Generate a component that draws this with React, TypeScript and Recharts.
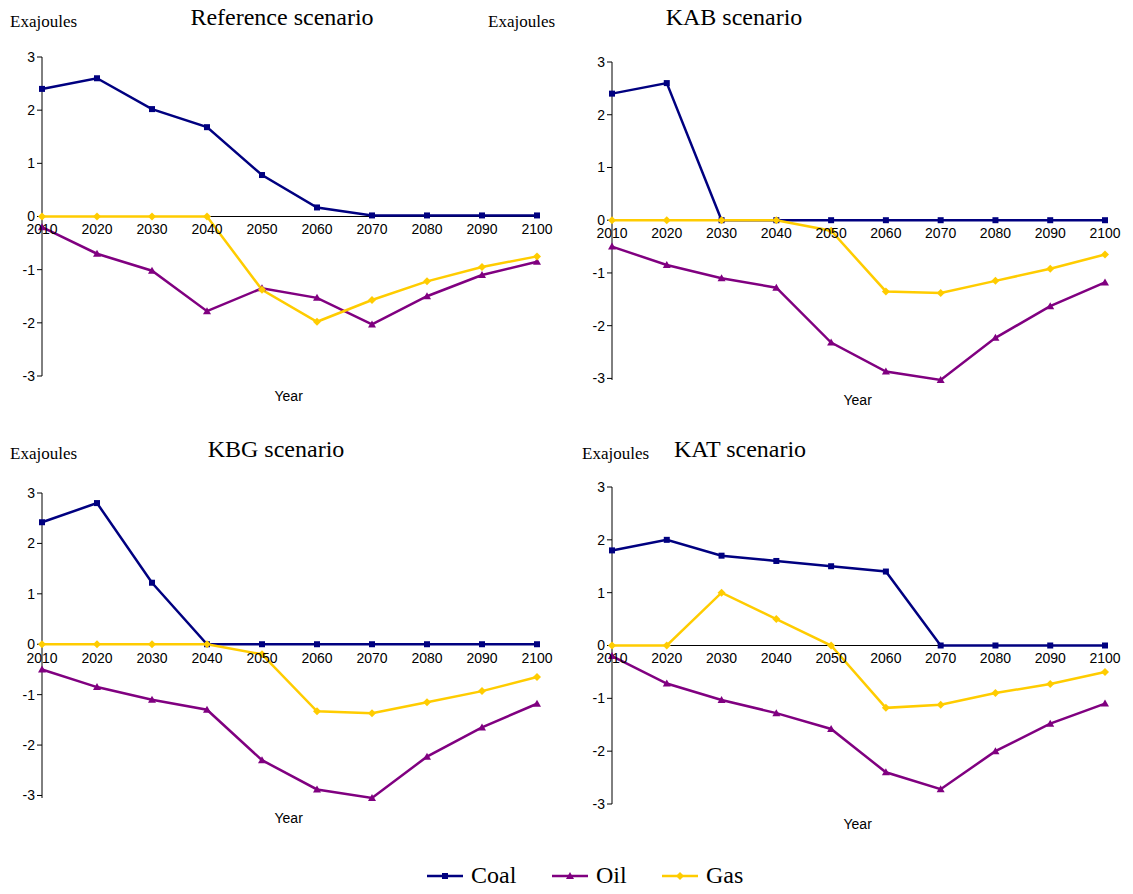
import { LineChart, Line, XAxis, YAxis, ReferenceLine } from 'recharts';

const years = [2010, 2020, 2030, 2040, 2050, 2060, 2070, 2080, 2090, 2100];
const yTicks = [-3, -2, -1, 0, 1, 2, 3];

const refCoal = [2.4, 2.6, 2.02, 1.68, 0.78, 0.17, 0.02, 0.02, 0.02, 0.02];
const refOil = [-0.2, -0.7, -1.02, -1.78, -1.35, -1.53, -2.03, -1.5, -1.1, -0.85];
const refGas = [0, 0, 0, 0, -1.38, -1.98, -1.57, -1.22, -0.95, -0.75];

const kabCoal = [2.4, 2.6, 0, 0, 0, 0, 0, 0, 0, 0];
const kabOil = [-0.5, -0.85, -1.1, -1.28, -2.32, -2.87, -3.03, -2.23, -1.63, -1.18];
const kabGas = [0, 0, 0, 0, -0.2, -1.35, -1.38, -1.15, -0.92, -0.65];

const kbgCoal = [2.42, 2.8, 1.22, 0, 0, 0, 0, 0, 0, 0];
const kbgOil = [-0.5, -0.85, -1.1, -1.3, -2.3, -2.88, -3.05, -2.23, -1.65, -1.18];
const kbgGas = [0, 0, 0, 0, -0.2, -1.33, -1.37, -1.15, -0.93, -0.65];

const katCoal = [1.8, 2.0, 1.7, 1.6, 1.5, 1.4, 0, 0, 0, 0];
const katOil = [-0.2, -0.72, -1.03, -1.28, -1.58, -2.4, -2.72, -2.0, -1.48, -1.1];
const katGas = [0, 0, 1.0, 0.5, 0, -1.18, -1.12, -0.9, -0.73, -0.5];

const COAL = '#000080';
const OIL = '#800080';
const GAS = '#FFCC00';
const sans = '"Liberation Sans", Arial, sans-serif';
const serif = '"Liberation Serif", "Times New Roman", serif';

const Marker = ({ kind, cx, cy, color }: any) => {
    if (cx == null || cy == null) return null;
    if (kind === 'square') return <rect x={cx - 3} y={cy - 3} width={6} height={6} fill={color} />;
    if (kind === 'triangle') return <polygon points={`${cx},${cy - 4} ${cx + 4},${cy + 3} ${cx - 4},${cy + 3}`} fill={color} />;
    return <polygon points={`${cx},${cy - 4} ${cx + 4},${cy} ${cx},${cy + 4} ${cx - 4},${cy}`} fill={color} />;
};

type PanelProps = {
    title: string;
    coal: number[]; oil: number[]; gas: number[];
    left: number; top: number; w: number; h: number;
    titleX: number; titleY: number; exaX: number; exaY: number;
};

const Panel = ({ title, coal, oil, gas, left, top, w, h, titleX, titleY, exaX, exaY }: PanelProps) => {
    const data = years.map((y, i) => ({ year: y, coal: coal[i], oil: oil[i], gas: gas[i] }));
    const mTop = 10;
    // x labels sit just under the zero line
    const zeroY = mTop + h / 2;
    const XTick = ({ x, payload }: any) => (
        <text x={x} y={zeroY + 17} textAnchor="middle" fontSize={14} fontFamily={sans} fill="#000">{payload.value}</text>
    );
    return (
        <>
            <div style={{ position: 'absolute', left: exaX, top: exaY, fontFamily: serif, fontSize: 17 }}>Exajoules</div>
            <div style={{ position: 'absolute', left: titleX, top: titleY, fontFamily: serif, fontSize: 24, transform: 'translateX(-50%)', whiteSpace: 'nowrap' }}>{title}</div>
            <div style={{ position: 'absolute', left: left - 42, top: top - mTop }}>
                <LineChart width={42 + w + 30} height={mTop + h + 40} data={data} margin={{ top: mTop, right: 30, left: 0, bottom: 0 }}>
                    <XAxis dataKey="year" type="number" domain={[2010, 2100]} ticks={years} height={40}
                        axisLine={false} tickLine={false} tick={<XTick />} interval={0} />
                    <YAxis domain={[-3, 3]} ticks={yTicks} width={42} stroke="#000" tickSize={5}
                        tick={{ fontSize: 14, fontFamily: sans, fill: '#000' }} interval={0} />
                    <ReferenceLine y={0} stroke="#000" />
                    <Line dataKey="coal" stroke={COAL} strokeWidth={2.5} isAnimationActive={false}
                        dot={(p: any) => <Marker key={`c${p.index}`} kind="square" cx={p.cx} cy={p.cy} color={COAL} />} />
                    <Line dataKey="oil" stroke={OIL} strokeWidth={2.5} isAnimationActive={false}
                        dot={(p: any) => <Marker key={`o${p.index}`} kind="triangle" cx={p.cx} cy={p.cy} color={OIL} />} />
                    <Line dataKey="gas" stroke={GAS} strokeWidth={2.5} isAnimationActive={false}
                        dot={(p: any) => <Marker key={`g${p.index}`} kind="diamond" cx={p.cx} cy={p.cy} color={GAS} />} />
                </LineChart>
            </div>
            <div style={{ position: 'absolute', left: left + w / 2 - 15, top: top + h + 12, fontFamily: sans, fontSize: 14 }}>Year</div>
        </>
    );
};

const LegendItem = ({ label, color, kind, x }: any) => (
    <div style={{ position: 'absolute', left: x, top: 862, display: 'flex', alignItems: 'center', fontFamily: serif, fontSize: 24 }}>
        <svg width={40} height={20}>
            <line x1={2} y1={10} x2={38} y2={10} stroke={color} strokeWidth={2.5} />
            <Marker kind={kind} cx={20} cy={10} color={color} />
        </svg>
        <span style={{ marginLeft: 6 }}>{label}</span>
    </div>
);

const App = () => (
    <div style={{ position: 'absolute', left: 0, top: 0, width: 1133, height: 894, background: '#fff' }}>
        <Panel title="Reference scenario" coal={refCoal} oil={refOil} gas={refGas}
            left={42} top={57} w={495} h={319} titleX={282} titleY={4} exaX={10} exaY={12} />
        <Panel title="KAB scenario" coal={kabCoal} oil={kabOil} gas={kabGas}
            left={612} top={62} w={493} h={318} titleX={734} titleY={4} exaX={488} exaY={12} />
        <Panel title="KBG scenario" coal={kbgCoal} oil={kbgOil} gas={kbgGas}
            left={42} top={493} w={495} h={305} titleX={276} titleY={436} exaX={10} exaY={444} />
        <Panel title="KAT scenario" coal={katCoal} oil={katOil} gas={katGas}
            left={612} top={487} w={493} h={317} titleX={740} titleY={436} exaX={582} exaY={444} />
        <LegendItem label="Coal" color={COAL} kind="square" x={425} />
        <LegendItem label="Oil" color={OIL} kind="triangle" x={550} />
        <LegendItem label="Gas" color={GAS} kind="diamond" x={660} />
    </div>
);

export default App;
